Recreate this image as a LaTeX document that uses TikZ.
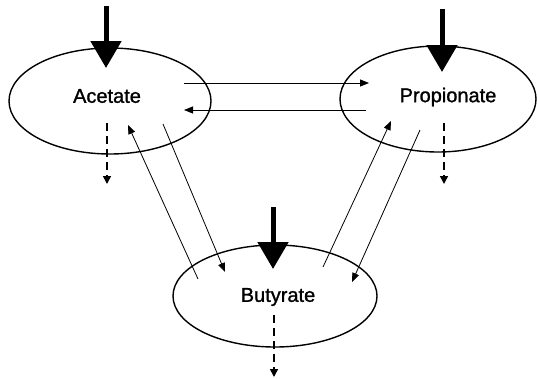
\documentclass[tikz,border=0pt]{standalone}
\usepackage{fontspec}
\setmainfont{Liberation Sans}
\newfontfamily\poolfont[FakeBold=1.2]{Liberation Sans}
\usetikzlibrary{arrows.meta}
\begin{document}
\begin{tikzpicture}[x=1pt,y=-1pt,
  lbl/.style={font=\poolfont\fontsize{20}{24}\selectfont},
  inflow/.style={line width=5pt, -{Triangle[length=27pt,width=30pt]}},
  outflow/.style={line width=1.5pt, dash pattern=on 8pt off 5pt, -{Triangle[length=8pt,width=8pt]}},
  flux/.style={line width=0.8pt, -{Triangle[length=9pt,width=7pt]}}
]
\useasboundingbox (0,0) rectangle (537,378);

% pools
\draw[line width=1.4pt] (110,101) ellipse [x radius=101, y radius=53];
\draw[line width=1.4pt] (438,99) ellipse [x radius=98, y radius=53];
\draw[line width=1.4pt] (275,296) ellipse [x radius=102, y radius=51];
\node[lbl] (ac) at (107,96) {Acetate};
\node[lbl] (pr) at (448,97) {Propionate};
\node[lbl] (bu) at (278,297) {Butyrate};

% external inputs
\coordinate (acin) at (106,6);
\coordinate (acinT) at (106,68);
\coordinate (prin) at (442,9);
\coordinate (prinT) at (442,72);
\coordinate (buin) at (273,207);
\coordinate (buinT) at (273,269);
\draw[inflow] (acin) -- (acinT);
\draw[inflow] (prin) -- (prinT);
\draw[inflow] (buin) -- (buinT);

% losses
\coordinate (acout) at (107,123);
\coordinate (acoutT) at (107,184);
\coordinate (prout) at (444,123);
\coordinate (proutT) at (444,184);
\coordinate (buout) at (274,315);
\coordinate (buoutT) at (274,377);
\draw[outflow] (acout) -- (acoutT);
\draw[outflow] (prout) -- (proutT);
\draw[outflow] (buout) -- (buoutT);

% interconversions
\coordinate (a1) at (184,83);  \coordinate (p1) at (369,83);
\coordinate (p2) at (366,110); \coordinate (a2) at (184,110);
\coordinate (a3) at (128,125); \coordinate (b3) at (198,279);
\coordinate (a4) at (163,124); \coordinate (b4) at (225,272);
\coordinate (p5) at (391,121); \coordinate (b5) at (323,267);
\coordinate (p6) at (420,130); \coordinate (b6) at (352,282);
\draw[flux] (a1) -- (p1);
\draw[flux] (p2) -- (a2);
\draw[flux] (b3) -- (a3);
\draw[flux] (a4) -- (b4);
\draw[flux] (b5) -- (p5);
\draw[flux] (p6) -- (b6);
\end{tikzpicture}
\end{document}
